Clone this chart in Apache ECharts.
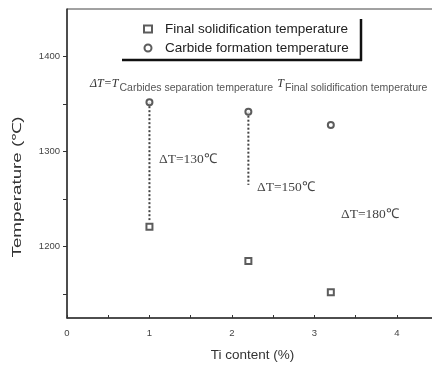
<!DOCTYPE html>
<html><head><meta charset="utf-8">
<script src="https://cdn.jsdelivr.net/npm/echarts@6/dist/echarts.min.js"></script>
<style>html,body{margin:0;padding:0;background:#fff}#c{width:432px;height:365px}</style>
</head><body><div id="c"></div>
<script>
const tiContent = [1.0, 2.2, 3.2];
const carbideTemp = [1352, 1342, 1328];
const finalTemp = [1221, 1185, 1152];
const dottedEnd = [1228, 1265, null];
const yLabelValues = [1200, 1300, 1400];
const yTickValues = [1150, 1200, 1250, 1300, 1350, 1400];
const deltaLabels = ['ΔT=130℃', 'ΔT=150℃', 'ΔT=180℃'];

const chart = echarts.init(document.getElementById('c'));
const dark = '#333';
const series = [
  {name: 'Final solidification temperature', type: 'scatter', symbol: 'emptyRect', symbolSize: 6,
   itemStyle: {color: dark, borderColor: dark, borderWidth: 1.2},
   data: tiContent.map((x, i) => [x, finalTemp[i]]), z: 5},
  {name: 'Carbide formation temperature', type: 'scatter', symbol: 'emptyCircle', symbolSize: 6,
   itemStyle: {color: dark, borderColor: dark, borderWidth: 1.5},
   data: tiContent.map((x, i) => [x, carbideTemp[i]]), z: 5}
];
tiContent.forEach((x, i) => {
  if (dottedEnd[i] == null) return;
  series.push({type: 'line', symbol: 'none', silent: true,
    lineStyle: {type: [2, 2], width: 2, color: '#444'},
    data: [[x, carbideTemp[i]], [x, dottedEnd[i]]], z: 3});
});
chart.setOption({
  animation: false,
  grid: {left: 67, top: 9, width: 371, height: 309, show: true, borderColor: '#444', borderWidth: 1,
    outerBoundsMode: 'none', containLabel: false},
  xAxis: {type: 'value', min: 0, max: 4.5, interval: 0.5,
    name: 'Ti content (%)', nameLocation: 'middle', nameGap: 30,
    nameTextStyle: {fontFamily: 'Liberation Sans', fontSize: 13.5, color: '#333'},
    axisLine: {lineStyle: {color: '#333', width: 1.5}},
    axisTick: {inside: true, length: 3, lineStyle: {color: '#333'}},
    axisLabel: {fontFamily: 'Liberation Sans', fontSize: 9.5, color: '#444', margin: 10,
      formatter: v => (Math.abs(v - Math.round(v)) < 1e-6 ? String(Math.round(v)) : '')},
    splitLine: {show: false}},
  yAxis: {type: 'value', min: 1125, max: 1450,
    axisLine: {show: true, lineStyle: {color: '#333', width: 1.5}},
    axisTick: {show: true, length: 4, customValues: yTickValues, lineStyle: {color: '#333'}},
    axisLabel: {customValues: yLabelValues, fontFamily: 'Liberation Sans', fontSize: 9.5, color: '#444', margin: 7,
      formatter: v => String(v)},
    splitLine: {show: false}},
  legend: {orient: 'vertical', left: 143, top: 22, itemWidth: 8, itemHeight: 7, itemGap: 5, padding: 0,
    data: ['Final solidification temperature', 'Carbide formation temperature'],
    textStyle: {fontFamily: 'Liberation Sans', fontSize: 13.5, color: '#222', padding: [0, 0, 0, 8]}},
  graphic: [
    {type: 'line', shape: {x1: 361, y1: 19, x2: 361, y2: 61}, style: {stroke: '#111', lineWidth: 2.5}},
    {type: 'line', shape: {x1: 122, y1: 60, x2: 362, y2: 60}, style: {stroke: '#111', lineWidth: 2.5}},
    {type: 'text', x: 18, y: 187, rotation: Math.PI / 2, scaleX: 1.5,
      style: {text: 'Temperature (℃)', fontFamily: 'Liberation Sans', fontSize: 12.5, fill: '#333',
        align: 'center', verticalAlign: 'middle'}},
    {type: 'text', left: 90, top: 78, style: {
      text: '{it|ΔT=T}{sub|Carbides separation temperature} {it|T}{sub|Final solidification temperature}',
      rich: {it: {fontFamily: 'Liberation Serif', fontStyle: 'italic', fontSize: 12, fill: '#333'},
             sub: {fontFamily: 'Liberation Sans', fontSize: 10.5, fill: '#555', padding: [8, 1, 0, 1]}}}},
    {type: 'text', left: 159, top: 152, style: {text: deltaLabels[0], fontFamily: 'Liberation Serif', fontSize: 13.5, fill: '#444'}},
    {type: 'text', left: 257, top: 180, style: {text: deltaLabels[1], fontFamily: 'Liberation Serif', fontSize: 13.5, fill: '#444'}},
    {type: 'text', left: 341, top: 207, style: {text: deltaLabels[2], fontFamily: 'Liberation Serif', fontSize: 13.5, fill: '#444'}}
  ],
  series: series
});
</script></body></html>
